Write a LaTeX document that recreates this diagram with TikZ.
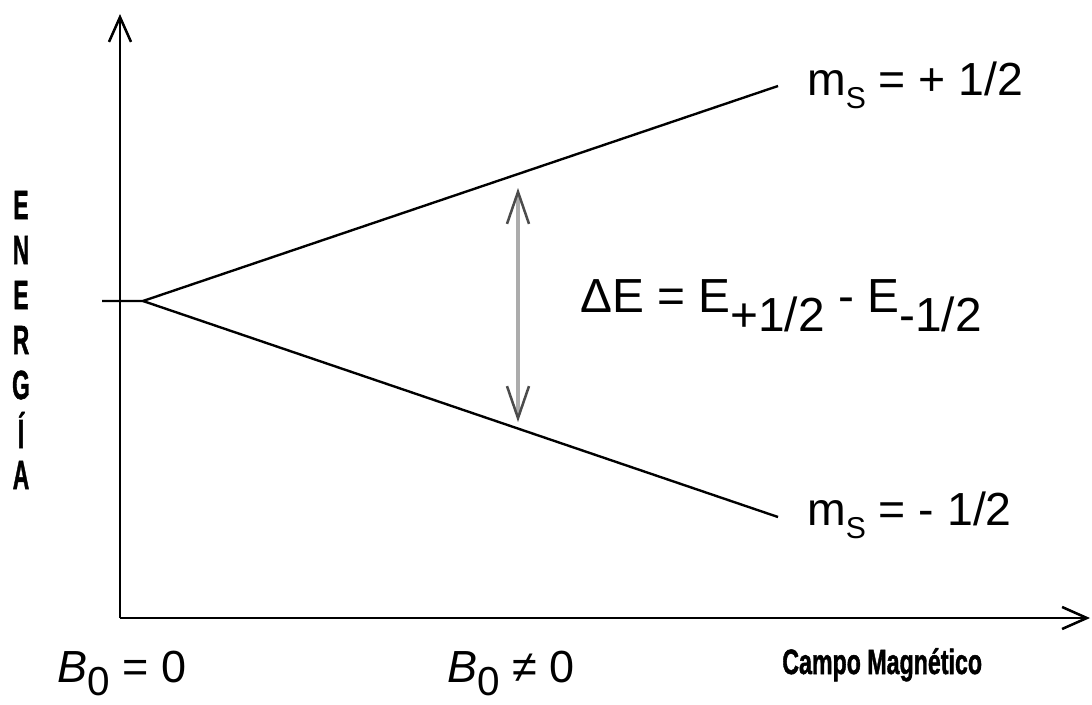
\documentclass[tikz,border=0pt]{standalone}
\usepackage{fontspec}
\setmainfont{Liberation Sans}
\newfontfamily\heavyfont[FakeBold=1.5]{Liberation Sans Bold}
\usetikzlibrary{arrows.meta}
\newcommand{\lowsub}[3]{\raisebox{-#1}{\scalebox{#2}{#3}}}
\newcommand{\narrow}[2]{\scalebox{#1}[1]{#2}}
\begin{document}
\begin{tikzpicture}[x=0.025cm, y=-0.025cm,
    axis/.style={line width=2pt, -{Straight Barb[length=0.62cm, width=0.55cm, line width=1.8pt]}},
    level/.style={line width=1.7pt},
    gap/.style={line width=2.6pt, gray!65,
        {Straight Barb[length=0.8cm, width=0.55cm, line width=1.8pt, color=black!70]}-{Straight Barb[length=0.8cm, width=0.55cm, line width=1.8pt, color=black!70]}},
    lbl/.style={font=\fontsize{33}{38}\selectfont, inner sep=0pt, anchor=base west},
    tag/.style={font=\heavyfont\fontsize{29}{34}\selectfont, inner sep=0pt}]
\useasboundingbox (0,0) rectangle (1092,704);
\coordinate (O) at (120,618);
\coordinate (ytop) at (120,14);
\coordinate (xend) at (1090,618);
\draw[axis] (O) -- (ytop);
\draw[axis] (O) -- (xend);
\coordinate (zero) at (102,301);
\coordinate (split) at (143,301);
\coordinate (up) at (778,86);
\coordinate (down) at (778,517);
\draw[level] (zero) -- (split) -- (up);
\draw[level] (split) -- (down);
\coordinate (gtop) at (518,188);
\coordinate (gbot) at (518,422);
\draw[gap] (gtop) -- (gbot);
\node[lbl] (plus) at (807,95) {m\lowsub{0.3em}{0.65}{S} = + 1/2};
\node[lbl] (minus) at (807,525) {m\lowsub{0.3em}{0.65}{S} = - 1/2};
\node[lbl, font=\fontsize{34}{40}\selectfont] (dE) at (580,312)
    {ΔE = E\lowsub{0.4em}{1}{+1/2} - E\lowsub{0.4em}{1}{-1/2}};
\node[lbl, font=\fontsize{32}{38}\selectfont] (b0) at (57,682)
    {\textit{B}\lowsub{0.3em}{0.9}{0} = 0};
\node[lbl, font=\fontsize{32}{38}\selectfont] (b1) at (447,682)
    {\textit{B}\lowsub{0.3em}{0.9}{0} ≠ 0};
\node[tag, font=\heavyfont\fontsize{25}{30}\selectfont, anchor=base west] (campo) at (782,674)
    {\narrow{0.66}{Campo Magnético}};
\foreach \ch [count=\i] in {E,N,E,R,G,Í,A}
    \node[tag] (e\i) at (21,{160+45*\i}) {\narrow{0.56}{\ch}};
\end{tikzpicture}
\end{document}
